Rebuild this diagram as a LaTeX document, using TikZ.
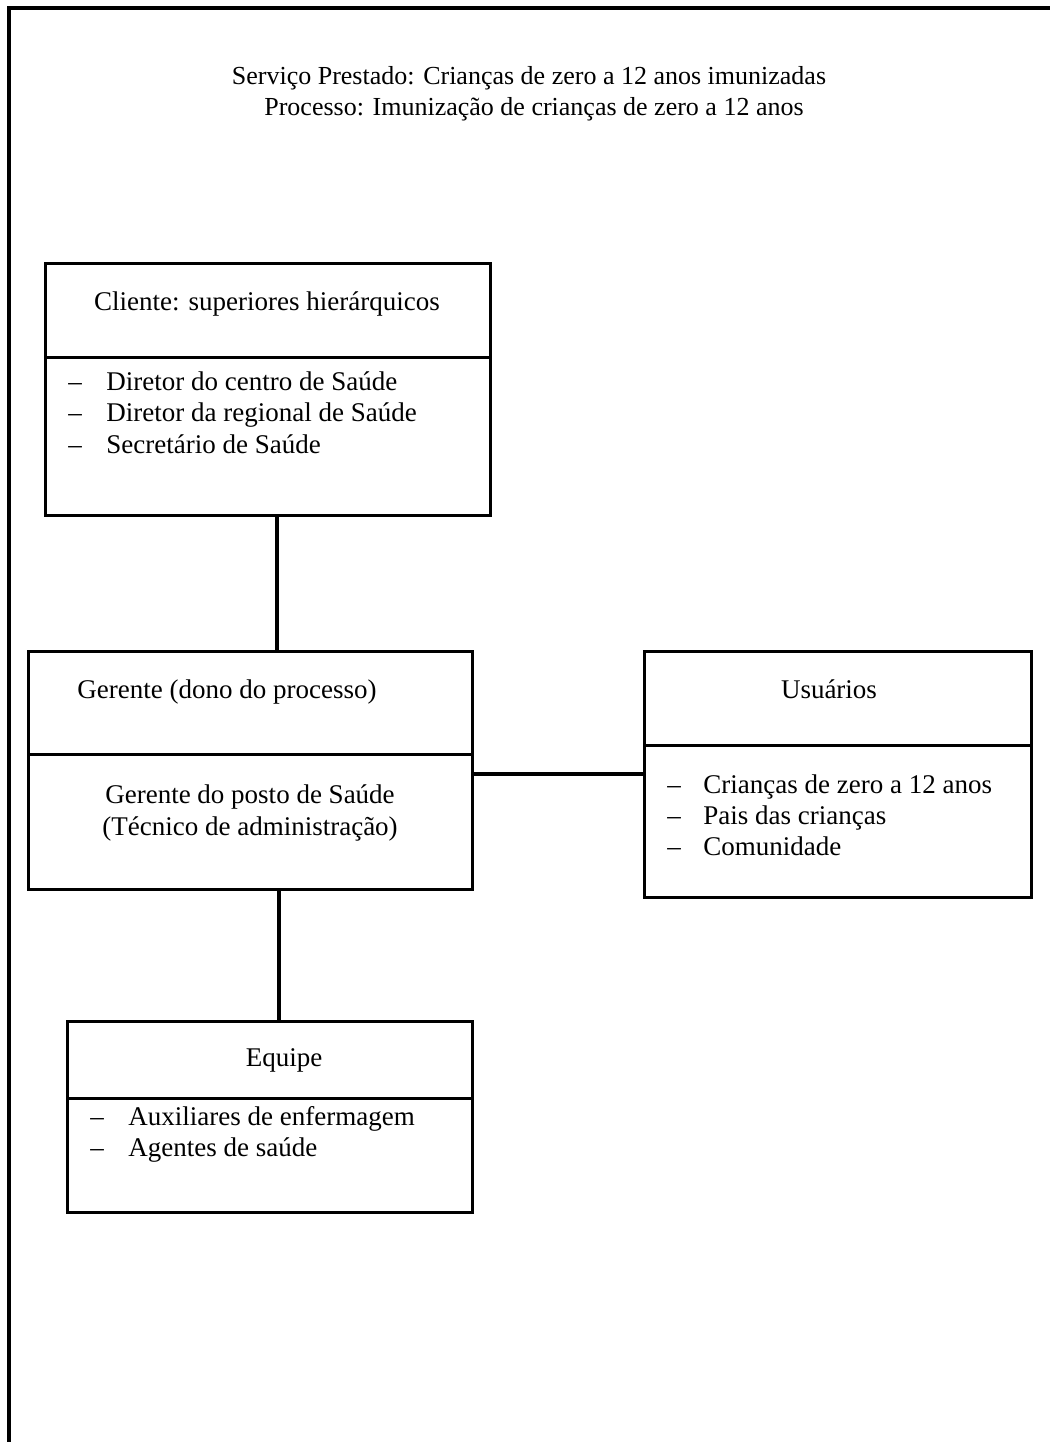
\documentclass[tikz,border=0pt]{standalone}
\usepackage{fontspec}
\setmainfont{Liberation Serif}
\begin{document}
\begin{tikzpicture}[x=0.5pt,y=-0.5pt,
  frameline/.style={line width=1.8pt},
  box/.style={draw, line width=1.7pt, rectangle, inner sep=0pt, anchor=north west},
  divider/.style={line width=1.5pt},
  link/.style={line width=1.7pt},
  txt/.style={inner sep=0pt, font=\fontsize{13.5}{16}\selectfont},
  headtxt/.style={inner sep=0pt, anchor=base, font=\fontsize{13}{16}\selectfont},
  title/.style={txt, anchor=base},
  item/.style={txt, anchor=base west},
]
\useasboundingbox (0,0) rectangle (1050,1442);

% page frame (left and top edges)
\coordinate (fr-top) at (9,8);
\coordinate (fr-bot) at (9,1442);
\coordinate (fr-right) at (1050,8);
\draw[frameline] (fr-bot) -- (fr-top) -- (fr-right);

% heading
\node[headtxt] (head1) at (529,84) {Serviço Prestado: Crianças de zero a 12 anos imunizadas};
\node[headtxt] (head2) at (534,115) {Processo: Imunização de crianças de zero a 12 anos};

% client box
\node[box, minimum width=222.5pt, minimum height=126pt] (cli) at (44,262) {};
\draw[divider] (cli.west |- 0,357) -- (cli.east |- 0,357);
\node[title] (cli-t) at (267,310) {Cliente: superiores hierárquicos};
\node[item] (cli-d1) at (68,390) {–};
\node[item] (cli-i1) at (106,390) {Diretor do centro de Saúde};
\node[item] (cli-d2) at (68,421) {–};
\node[item] (cli-i2) at (106,421) {Diretor da regional de Saúde};
\node[item] (cli-d3) at (68,453) {–};
\node[item] (cli-i3) at (106,453) {Secretário de Saúde};

% manager box
\node[box, minimum width=222pt, minimum height=119pt] (ger) at (27,650) {};
\draw[divider] (ger.west |- 0,754) -- (ger.east |- 0,754);
\node[item] (ger-t) at (77,698) {Gerente (dono do processo)};
\node[title] (ger-l1) at (250,803) {Gerente do posto de Saúde};
\node[title] (ger-l2) at (250,835) {(Técnico de administração)};

% users box
\node[box, minimum width=193.5pt, minimum height=123pt] (usr) at (643,650) {};
\draw[divider] (usr.west |- 0,745) -- (usr.east |- 0,745);
\node[title] (usr-t) at (829,698) {Usuários};
\node[item] (usr-d1) at (667,793) {–};
\node[item] (usr-i1) at (703,793) {Crianças de zero a 12 anos};
\node[item] (usr-d2) at (667,824) {–};
\node[item] (usr-i2) at (703,824) {Pais das crianças};
\node[item] (usr-d3) at (667,855) {–};
\node[item] (usr-i3) at (703,855) {Comunidade};

% team box
\node[box, minimum width=202.5pt, minimum height=95.5pt] (eqp) at (66,1020) {};
\draw[divider] (eqp.west |- 0,1098) -- (eqp.east |- 0,1098);
\node[title] (eqp-t) at (284,1066) {Equipe};
\node[item] (eqp-d1) at (90,1125) {–};
\node[item] (eqp-i1) at (128,1125) {Auxiliares de enfermagem};
\node[item] (eqp-d2) at (90,1156) {–};
\node[item] (eqp-i2) at (128,1156) {Agentes de saúde};

% connectors
\coordinate (v1) at (277,0);
\coordinate (v2) at (279,0);
\coordinate (h1) at (0,774);
\draw[link] (cli.south -| v1) -- (ger.north -| v1);
\draw[link] (ger.east |- h1) -- (usr.west |- h1);
\draw[link] (ger.south -| v2) -- (eqp.north -| v2);
\end{tikzpicture}
\end{document}
